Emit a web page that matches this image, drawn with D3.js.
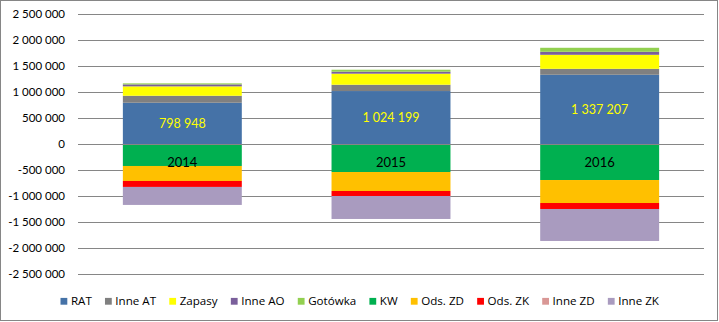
<!DOCTYPE html>
<html><head><meta charset="utf-8">
<script src="https://cdn.jsdelivr.net/npm/d3@7"></script>
<style>
html,body{margin:0;padding:0;background:#fff;}
svg{display:block;font-family:Lato, "Noto Sans", sans-serif;}
</style></head>
<body>
<svg id="c" width="719" height="322"></svg>
<script>
const years = ["2014", "2015", "2016"];
const seriesNames = ["RAT", "Inne AT", "Zapasy", "Inne AO", "Gotówka", "KW", "Ods. ZD", "Ods. ZK", "Inne ZD", "Inne ZK"];
const RAT     = [798948, 1024199, 1337207];
const inneAT  = [135000, 122000, 115000];
const zapasy  = [180000, 212000, 269000];
const inneAO  = [38000, 38000, 58000];
const gotowka = [20000, 38000, 77000];
const KW      = [-417000, -533000, -687000];
const odsZD   = [-288000, -365000, -442000];
const odsZK   = [-115000, -96000, -115000];
const inneZD  = [0, 0, 0];
const inneZK  = [-346000, -442000, -615000];
const yTicks  = [-2500000, -2000000, -1500000, -1000000, -500000, 0, 500000, 1000000, 1500000, 2000000, 2500000];
const colors  = ["#4572A7", "#808080", "#FFFF00", "#7A5F9B", "#92D050", "#00B050", "#FFC000", "#FF0000", "#D99795", "#A99BBF"];

const seriesValues = [RAT, inneAT, zapasy, inneAO, gotowka, KW, odsZD, odsZK, inneZD, inneZK];
const table = years.map((y, i) => {
  const row = {year: y};
  seriesNames.forEach((n, k) => row[n] = seriesValues[k][i]);
  return row;
});

const svg = d3.select("#c");
const W = 719, H = 322;
svg.append("rect").attr("x", 0.5).attr("y", 0.5).attr("width", W - 2).attr("height", H - 2)
  .attr("fill", "#fff").attr("stroke", "#868686").attr("stroke-width", 1);

const plotL = 78, plotR = 704;
const x = d3.scaleBand().domain(years).range([plotL, plotR]).paddingInner(0.43).paddingOuter(0.215);
const y = d3.scaleLinear().domain([-2500000, 2500000]).range([274.3, 14.3]);

const loc = d3.formatLocale({decimal: ",", thousands: " ", grouping: [3], currency: ["", ""], minus: "-"});
const fmt = loc.format(",d");

// gridlines
svg.append("g").selectAll("line").data(yTicks.filter(t => t !== 0)).join("line")
  .attr("x1", plotL).attr("x2", plotR)
  .attr("y1", d => Math.round(y(d)) + 0.5).attr("y2", d => Math.round(y(d)) + 0.5)
  .attr("stroke", "#868686").attr("stroke-width", 1);

// y axis labels
const yAxis = d3.axisLeft(y).tickValues(yTicks).tickFormat(fmt).tickSize(0).tickPadding(0);
const ga = svg.append("g").attr("transform", `translate(65,0)`).call(yAxis);
ga.select(".domain").remove();
ga.selectAll("text").attr("font-size", 11.5).attr("fill", "#000").attr("font-family", "Lato, 'Noto Sans', sans-serif");

// stacks
const stack = d3.stack().keys(seriesNames).offset(d3.stackOffsetDiverging);
const stacked = stack(table);

svg.append("g").selectAll("g").data(stacked).join("g")
  .attr("fill", (d, i) => colors[i])
  .selectAll("rect").data(d => d).join("rect")
  .attr("x", d => x(d.data.year))
  .attr("width", x.bandwidth())
  .attr("y", d => y(Math.max(d[0], d[1])))
  .attr("height", d => Math.abs(y(d[0]) - y(d[1])));

// zero line
svg.append("line").attr("x1", plotL).attr("x2", plotR)
  .attr("y1", Math.round(y(0)) + 0.5).attr("y2", Math.round(y(0)) + 0.5)
  .attr("stroke", "#868686").attr("stroke-width", 1);

// RAT value labels
svg.append("g").selectAll("text").data(stacked[0]).join("text")
  .attr("x", d => x(d.data.year) + x.bandwidth() / 2)
  .attr("y", d => (y(d[0]) + y(d[1])) / 2)
  .attr("dy", "0.35em").attr("text-anchor", "middle")
  .attr("font-size", 12.5).attr("fill", "#FFFF00")
  .text(d => fmt(d.data.RAT));

// year labels
svg.append("g").selectAll("text").data(years).join("text")
  .attr("x", d => x(d) + x.bandwidth() / 2)
  .attr("y", y(-350000))
  .attr("dy", "0.35em").attr("text-anchor", "middle")
  .attr("font-size", 13).attr("fill", "#000")
  .text(d => d);

// legend
const lg = svg.append("g").attr("transform", "translate(60.5,301.3)");
let lx = 0;
seriesNames.forEach((n, i) => {
  const g = lg.append("g").attr("transform", `translate(${lx},0)`);
  g.append("rect").attr("x", 0).attr("y", -3.4).attr("width", 6.8).attr("height", 6.8).attr("fill", colors[i]);
  const t = g.append("text").attr("x", 10.4).attr("dy", "0.36em")
    .attr("font-family", "'Open Sans', 'Noto Sans', sans-serif")
    .attr("font-size", 11.6).attr("fill", "#000").text(n);
  lx += 10.4 + t.node().getComputedTextLength() + 13.2;
});
</script>
</body></html>
